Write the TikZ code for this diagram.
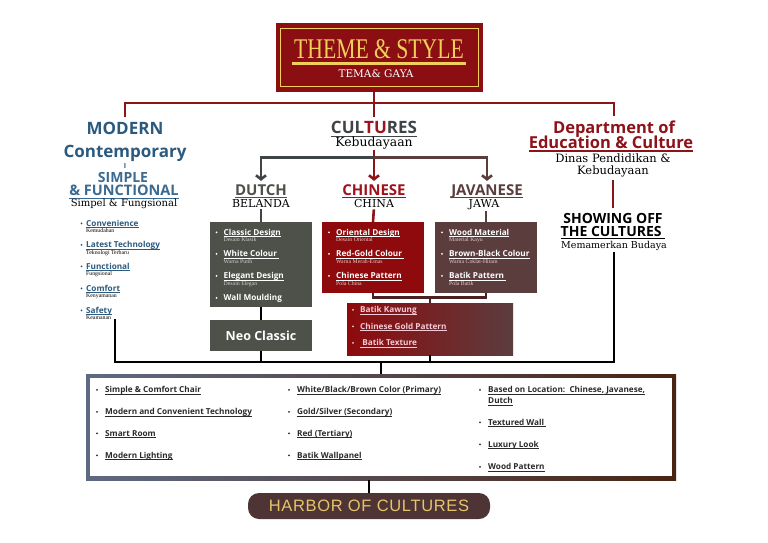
\documentclass[tikz,border=0pt]{standalone}
\usepackage{fontspec}
\setmainfont{Liberation Serif}
\newfontfamily\hs{Open Sans}
\newfontfamily\sr{DejaVu Serif}
\newfontfamily\titlef[FakeStretch=0.76]{Liberation Serif}
\newfontfamily\harbf[LetterSpace=4]{Liberation Sans}
\usetikzlibrary{arrows.meta}

\definecolor{tred}{HTML}{8A0E12}
\definecolor{tyel}{HTML}{F2CF5B}
\definecolor{lred}{HTML}{8B1518}
\definecolor{mblue}{HTML}{2B5A7E}
\definecolor{mblue2}{HTML}{3A6A90}
\definecolor{dgray}{HTML}{4D5149}
\definecolor{cgray}{HTML}{3F4447}
\definecolor{cred}{HTML}{8E0A0C}
\definecolor{cred2}{HTML}{A0121C}
\definecolor{jbrown}{HTML}{5B3D3E}
\definecolor{hbrown}{HTML}{4E3435}
\definecolor{hyel}{HTML}{E6C46A}
\definecolor{bleft}{HTML}{5F6A82}
\definecolor{bright}{HTML}{4A2413}
\definecolor{pinkt}{HTML}{F6C9D6}
\definecolor{btxt}{HTML}{2A2A2A}
\definecolor{subw}{HTML}{D0D0CC}
\definecolor{subp}{HTML}{EBC9C9}
\definecolor{dred}{HTML}{8E1219}
\definecolor{mar}{HTML}{4A2020}

\newcommand\fsz[1]{\fontsize{#1}{#1}\selectfont}
\newcommand\ulx[1]{\setbox0=\hbox{#1}\leavevmode\rlap{\copy0}\raise-0.14em\hbox{\vrule width\wd0 height0pt depth0.08em}}
\def\bgap{7}
\newcommand\bitem[6]{%
  \fill[#5] ({#1-\bgap},{#2-2.7}) circle (1pt);
  \node[itm,text=#5] at (#1,#2) {\ulx{#3}};
  \node[subt,text=#6] at (#1,{#2+6.5}) {#4};}
\newcommand\bitemn[4]{%
  \fill[#4] ({#1-\bgap},{#2-2.7}) circle (1pt);
  \node[itm,text=#4] at (#1,#2) {\ulx{#3}};}

\tikzset{
  hd/.style={inner sep=0, anchor=base},
  sf/.style={inner sep=0, anchor=base},
  itm/.style={inner sep=0, anchor=base west, font=\hs\bfseries\fsz{8.2}},
  subt/.style={inner sep=0, anchor=base west, font=\fsz{5.8}},
  colbox/.style={inner sep=0, outer sep=0, minimum width=102pt},
  redl/.style={draw=lred, line width=2.6pt},
  grayl/.style={draw=cgray, line width=2.6pt},
  brownl/.style={draw=jbrown, line width=2.6pt},
  marl/.style={draw=mar, line width=2.4pt},
  blk/.style={draw=black, line width=2.6pt},
  barb/.style={-{Straight Barb[length=4pt,width=10pt]}},
}

\begin{document}
\begin{tikzpicture}[x=1pt,y=-1pt]
\fill[white] (0,0) rectangle (768,543);
\useasboundingbox (0,0) rectangle (768,543);

% ---------- title ----------
\node[fill=tred, minimum width=207pt, minimum height=69pt, inner sep=0] (title) at (379.5,57.5) {};
\draw[tyel, line width=1.3pt] (280.5,28.5) rectangle (478.5,86.5);
\node[inner sep=0, anchor=base, text=tyel, font=\titlef\fsz{28.5}] (ttl) at (379,59) {THEME \& STYLE};
\draw[tyel, line width=2.2pt] (292,63.5) -- (466,63.5);
\node[inner sep=0, anchor=base, text=white, font=\sr\fsz{10.5}] (tsub) at (376,77.5) {TEMA\& GAYA};

% ---------- headings ----------
\node[hd, text=mblue, font=\hs\bfseries\fsz{17}] (modern) at (125,134) {MODERN};
\node[hd, text=mblue, font=\hs\bfseries\fsz{17}] (contemp) at (125,157.5) {Contemporary};
\node[hd, text=mblue, font=\hs\bfseries\fsz{7}] (bar) at (125,168) {I};
\node[hd, text=mblue2, font=\hs\bfseries\fsz{14}] (simple) at (123,182.5) {SIMPLE};
\node[hd, text=mblue2, font=\hs\bfseries\fsz{14.5}] (func) at (124,195.5) {\ulx{\& FUNCTIONAL}};
\node[sf, font=\sr\fsz{10}] (simpel) at (124,206.5) {Simpel \& Fungsional};

\node[hd, text=cgray, font=\hs\bfseries\fsz{17}] (cult) at (374,133.5) {\ulx{CUL\textcolor{cred2}{TU}RES}};
\node[sf, font=\sr\fsz{12.4}] (keb) at (374,146.5) {Kebudayaan};

\node[hd, text=dred, font=\hs\bfseries\fsz{16.5}] (dept) at (614,133) {Department of};
\node[hd, text=dred, font=\hs\bfseries\fsz{16.5}] (edu) at (611,148) {\ulx{Education \& Culture}};
\node[sf, font=\sr\fsz{11.5}] (dinas) at (613,162) {Dinas Pendidikan \&};
\node[sf, font=\sr\fsz{11.5}] (dkeb) at (613,174.5) {Kebudayaan};
\node[hd, font=\hs\bfseries\fsz{14}] (show) at (613,223) {SHOWING OFF};
\node[hd, font=\hs\bfseries\fsz{14}] (showb) at (613,236) {\ulx{THE CULTURES\ }};
\node[sf, font=\sr\fsz{9.5}] (memam) at (614,248) {Memamerkan Budaya};

\coordinate (busC) at (374,103);
\draw[redl, shorten >=4pt] (title.south -| cult.north) -- (cult.north);
\draw[redl, shorten <=4pt, shorten >=4pt] (modern.north) -- (modern.north |- busC) -- (dept.north |- busC) -- (dept.north);
\draw[redl, shorten <=3pt, shorten >=5pt] (dkeb.south) -- (show.north);

% ---------- culture sub-headings ----------
\node[hd, text=dgray, font=\hs\bfseries\fsz{15}] (dutchh) at (261,195) {\ulx{DUTCH}};
\node[sf, font=\sr\fsz{11}] (belanda) at (261,207) {BELANDA};
\node[hd, text=cred2, font=\hs\bfseries\fsz{15}] (chh) at (374,195) {\ulx{CHINESE}};
\node[sf, font=\sr\fsz{11}] (china) at (374,207) {CHINA};
\node[hd, text=jbrown, font=\hs\bfseries\fsz{15}] (jvh) at (487,195) {\ulx{JAVANESE}};
\node[sf, font=\sr\fsz{11}] (jawa) at (484,207) {JAWA};

\coordinate (cb) at (374,157.5);
\draw[redl, shorten <=1pt] (keb.south) -- (cb);
\draw[grayl, barb, shorten >=3pt] (cb) -- (cb -| dutchh.north) -- (dutchh.north);
\draw[redl, barb, shorten >=3pt] (cb) -- (chh.north);
\draw[brownl, barb, shorten >=3pt] (cb) -- (cb -| jvh.north) -- (jvh.north);

% ---------- boxes ----------
\node[colbox, fill=dgray, minimum height=85pt] (dbox) at (261,264.5) {};
\node[colbox, fill=dgray, minimum height=31pt, text=white, font=\hs\bfseries\fsz{12.5}] (neo) at (261,335.5) {Neo Classic};
\node[colbox, fill=cred, minimum height=71pt] (chbox) at (373,257.5) {};
\node[colbox, fill=jbrown, minimum height=71pt] (jbox) at (486,257.5) {};
\node[inner sep=0, outer sep=0, minimum width=166pt, minimum height=52pt, left color=cred, right color=jbrown] (batik) at (430,329) {};

\draw[grayl, shorten <=2pt] (belanda.south) -- (dbox.north);
\draw[redl, shorten <=2pt] (china.south) -- (chbox.north);
\draw[brownl, shorten <=2pt] (jawa.south -| jbox.north) -- (jbox.north);
\draw[blk] (dbox.south) -- (neo.north);

\coordinate (jn) at (430,297.5);
\draw[marl] (chbox.south) -- (chbox.south |- jn) -- (jbox.south |- jn) -- (jbox.south);
\draw[marl] (jn) -- (batik.north);

% ---------- items ----------
\def\bgap{4.5}
\bitem{86}{226}{Convenience}{Kemudahan}{mblue}{black}
\bitem{86}{247.5}{Latest Technology}{Teknologi Terbaru}{mblue}{black}
\bitem{86}{269}{Functional}{Fungsional}{mblue}{black}
\bitem{86}{291}{Comfort}{Kenyamanan}{mblue}{black}
\bitem{86}{313}{Safety}{Keamanan}{mblue}{black}

\def\bgap{7}
\bitem{223.5}{235}{Classic Design}{Desain Klasik}{white}{subw}
\bitem{223.5}{256.5}{White Colour\ }{Warna Putih}{white}{subw}
\bitem{223.5}{278.5}{Elegant Design}{Desain Elegan}{white}{subw}
\fill[white] ({223.5-\bgap},{300.5-2.7}) circle (1pt);
\node[itm, text=white] (wall) at (223.5,300.5) {Wall Moulding};

\bitem{336}{235}{Oriental Design}{Desain Oriental}{white}{subp}
\bitem{336}{256.5}{Red-Gold Colour\ }{Warna Merah-Emas}{white}{subp}
\bitem{336}{278.5}{Chinese Pattern}{Pola China}{white}{subp}

\bitem{449}{235}{Wood Material}{Material Kayu}{white}{subp}
\bitem{449}{256.5}{Brown-Black Colour}{Warna Coklat-Hitam}{white}{subp}
\bitem{449}{278.5}{Batik Pattern\ }{Pola Batik}{white}{subp}

\bitemn{360}{312.5}{Batik Kawung}{pinkt}
\bitemn{360}{329}{Chinese Gold Pattern}{pinkt}
\bitemn{360}{345.5}{\ Batik Texture}{pinkt}

% ---------- bottom box ----------
\node[inner sep=0, outer sep=0, minimum width=590pt, minimum height=106pt, left color=bleft, right color=bright] (bottom) at (381,427) {};
\fill[white] (89.5,377.5) rectangle (672,476);

\def\bgap{8}
\bitemn{105}{392.5}{Simple \& Comfort Chair}{btxt}
\bitemn{105}{414.5}{Modern and Convenient Technology}{btxt}
\bitemn{105}{436}{Smart Room}{btxt}
\bitemn{105}{458}{Modern Lighting}{btxt}

\bitemn{297}{392.5}{White/Black/Brown Color (Primary)}{btxt}
\bitemn{297}{414.5}{Gold/Silver (Secondary)}{btxt}
\bitemn{297}{436}{Red (Tertiary)}{btxt}
\bitemn{297}{458}{Batik Wallpanel}{btxt}

\bitemn{488}{392.5}{Based on Location:\ \ Chinese, Javanese,}{btxt}
\node[itm, text=btxt] (dutchl) at (488,403.5) {\ulx{Dutch}};
\bitemn{488}{425}{Textured Wall\ }{btxt}
\bitemn{488}{447}{Luxury Look}{btxt}
\bitemn{488}{469.5}{Wood Pattern}{btxt}

% ---------- harbor ----------
\node[fill=hbrown, rounded corners=11pt, minimum width=242pt, minimum height=26pt, inner sep=0, text=hyel, font=\harbf\fsz{16.5}] (harbor) at (369,506) {HARBOR OF CULTURES};

% ---------- lower connectors ----------
\coordinate (bus2) at (381,362);
\coordinate (lstart) at (115,319);
\draw[blk, shorten >=2pt] (lstart) |- (memam.south |- bus2) -- (memam.south);
\draw[blk] (neo.south) -- (neo.south |- bus2);
\draw[blk] (batik.south) -- (batik.south |- bus2);
\draw[blk] (bus2) -- (bottom.north);
\draw[blk] (bottom.south -| harbor.north) -- (harbor.north);
\end{tikzpicture}
\end{document}
